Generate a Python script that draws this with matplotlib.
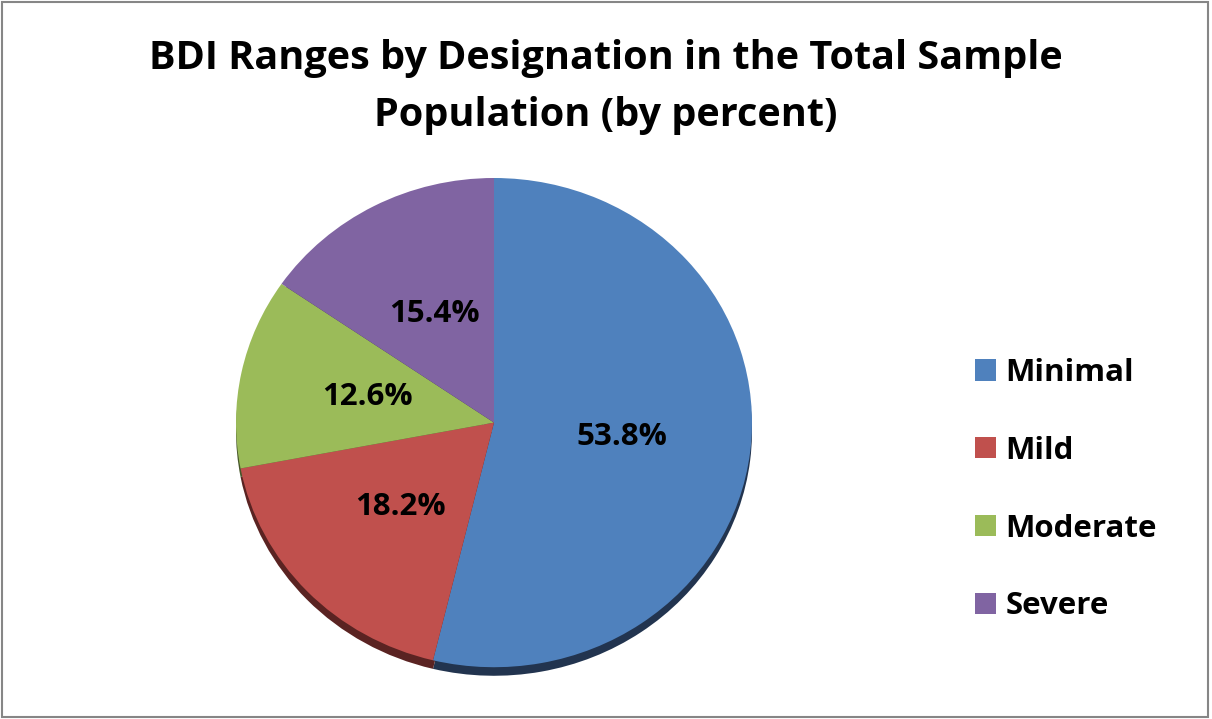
import matplotlib.pyplot as plt
from matplotlib.patches import Rectangle

# Данные
categories = ['Minimal', 'Mild', 'Moderate', 'Severe']
percents = [53.8, 18.2, 12.6, 15.4]
colors = ['#4F81BD', '#C0504D', '#9BBB59', '#8064A2']
shadow_colors = ['#22344F', '#5A2322', '#46562A', '#3A2D4C']

plt.rcParams['font.family'] = ['Open Sans', 'DejaVu Sans']

fig = plt.figure(figsize=(12.12, 7.19), dpi=100)

# Рамка области диаграммы
fig.patches.append(Rectangle((0.002, 0.003), 0.995, 0.994, transform=fig.transFigure,
                             fill=False, edgecolor='#868686', lw=1.5))

fig.text(0.5, 0.879, 'BDI Ranges by Designation in the Total Sample\nPopulation (by percent)',
         ha='center', va='center', fontsize=28.5, fontweight='bold', linespacing=1.6)

# Оси пирога (слегка сплющенный круг, как в 3D)
ax = fig.add_axes([236 / 1212, (719 - 677) / 719, 516 / 1212, 499 / 719])

# "Тень" снизу
ax.pie(percents, colors=shadow_colors, startangle=90, counterclock=False,
       center=(0, -0.035), radius=1, frame=True)
wedges, texts, autotexts = ax.pie(percents, colors=colors, startangle=90, counterclock=False,
                                  autopct='%1.1f%%', pctdistance=0.5, radius=1, frame=True,
                                  textprops=dict(fontsize=22.5, fontweight='bold', color='black'))
ax.set_xlim(-1, 1)
ax.set_ylim(-1.04, 1)
ax.set_aspect('auto')
ax.axis('off')

fig.legend(wedges, categories, loc='center left', bbox_to_anchor=(0.781, 0.319),
           frameon=False, handlelength=0.67, handleheight=0.67, handletextpad=0.32,
           labelspacing=1.53, prop=dict(size=22.5, weight='bold'))

plt.savefig('out.png', dpi=100)
